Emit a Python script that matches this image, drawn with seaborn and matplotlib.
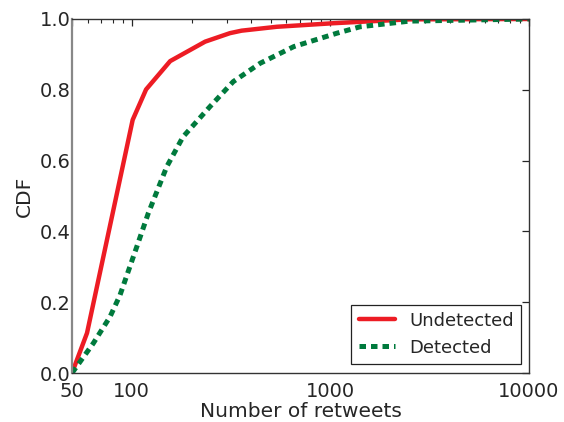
import numpy as np
import pandas as pd
import matplotlib
matplotlib.use("Agg")
import matplotlib.pyplot as plt
import seaborn as sns
from matplotlib.ticker import FixedLocator, NullFormatter, LogLocator

# Data
undetected_x = [50, 59.5, 101, 118, 156, 234, 312, 357, 537, 1031, 1410, 2500, 10000]
undetected_y = [0.0, 0.113, 0.715, 0.801, 0.881, 0.936, 0.960, 0.967, 0.978, 0.988, 0.992, 0.999, 1.0]
detected_x = [50, 64, 77.7, 87.2, 106, 121, 150, 181, 247, 324, 443, 654, 1080, 1410, 2500, 10000]
detected_y = [0.0, 0.084, 0.159, 0.220, 0.357, 0.451, 0.583, 0.667, 0.752, 0.823, 0.875, 0.922, 0.960, 0.978, 0.994, 1.0]
series_names = ["Undetected", "Detected"]
x_ticks = [50, 100, 1000, 10000]
x_tick_labels = ["50", "100", "1000", "10000"]
y_ticks = [0.0, 0.2, 0.4, 0.6, 0.8, 1.0]

df = pd.concat([
    pd.DataFrame({"retweets": undetected_x, "cdf": undetected_y, "group": series_names[0]}),
    pd.DataFrame({"retweets": detected_x, "cdf": detected_y, "group": series_names[1]}),
], ignore_index=True)

sns.set_theme(style="white")
plt.rcParams["font.family"] = ["DejaVu Sans"]

fig = plt.figure(figsize=(5.64, 4.22), dpi=100)
ax = fig.add_axes([0.1277, 0.1161, 0.938 - 0.1277, 0.955 - 0.1161])

palette = {"Undetected": "#ED1C24", "Detected": "#007A3D"}
dashes = {"Undetected": "", "Detected": (1.3, 1.0)}
sns.lineplot(data=df, x="retweets", y="cdf", hue="group", style="group",
             palette=palette, dashes=dashes, estimator=None, sort=True,
             linewidth=3.2, ax=ax)
for ln in ax.get_lines():
    ln.set_dash_capstyle("butt")
    if ln.get_color() == "#007A3D":
        ln.set_linewidth(3.6)

ax.set_xscale("log")
ax.set_xlim(50, 10000)
ax.set_ylim(0, 1)
ax.xaxis.set_major_locator(FixedLocator(x_ticks))
ax.set_xticklabels(x_tick_labels)
ax.xaxis.set_minor_locator(LogLocator(base=10, subs=np.arange(2, 10)))
ax.xaxis.set_minor_formatter(NullFormatter())
ax.set_yticks(y_ticks)
ax.set_yticklabels([f"{v:.1f}" for v in y_ticks])

ax.tick_params(axis="both", which="both", direction="in", top=True, right=True,
               colors="#262626", labelsize=14)
ax.tick_params(axis="both", which="major", length=5, width=0.9)
ax.tick_params(axis="x", which="minor", length=3, width=0.8)
ax.tick_params(axis="y", pad=1)
ax.tick_params(axis="x", pad=6.5)
for s in ax.spines.values():
    s.set_color("#333333")
    s.set_linewidth(1.0)
ax.spines["left"].set_color("#888888")
ax.spines["left"].set_linewidth(1.6)

ax.set_xlabel("Number of retweets", fontsize=14.5, color="#262626", labelpad=1)
ax.set_ylabel("CDF", fontsize=14.5, color="#262626", labelpad=4)

handles, labels = ax.get_legend_handles_labels()
for h in handles:
    if h.get_label() == "Detected":
        h.set_linewidth(3.6)
leg = ax.legend(handles, labels, loc="lower right", fontsize=13, frameon=True,
                fancybox=False, framealpha=1, edgecolor="#222222",
                handlelength=2.0, borderaxespad=0,
                bbox_to_anchor=((521 - 72) / 457, (373 - 364) / 354))
leg.get_frame().set_linewidth(0.9)
for t in leg.get_texts():
    t.set_color("#262626")

fig.savefig("out.png", dpi=100)
